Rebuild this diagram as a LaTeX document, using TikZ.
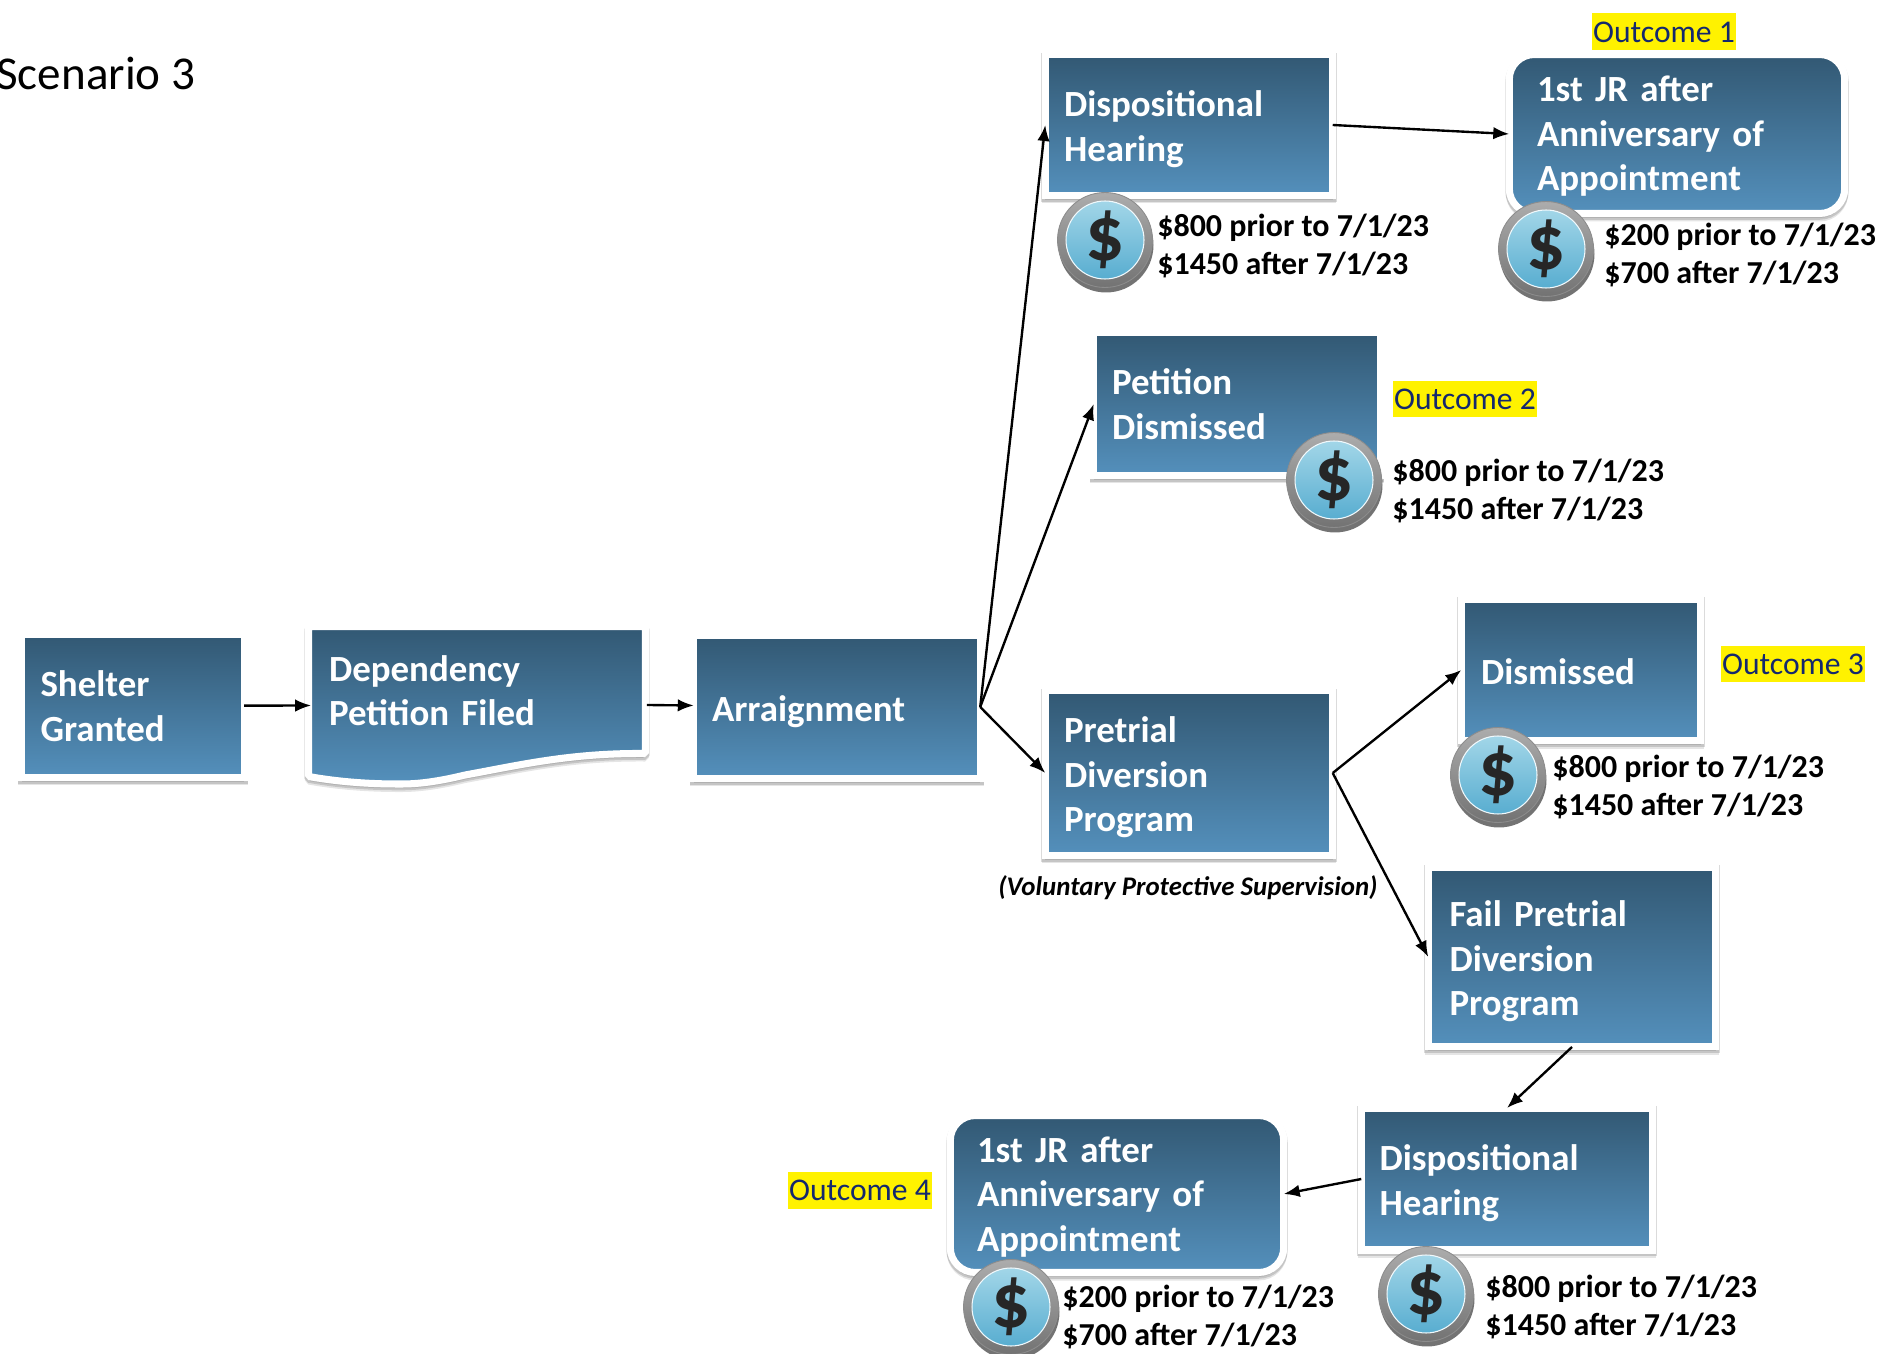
\documentclass[tikz,border=0pt]{standalone}
\usepackage{fontspec}
\usepackage{xcolor}
\usepackage{tikz}
\usetikzlibrary{shapes,arrows.meta,shadows}
\setmainfont{Carlito}
\definecolor{boxtop}{HTML}{325873}
\definecolor{boxbottom}{HTML}{5490BC}
\definecolor{outcomeblue}{HTML}{14286E}
\definecolor{facetop}{HTML}{A2D6E8}
\definecolor{facebottom}{HTML}{58ADD0}
\tikzset{
  framed/.style={draw=white,line width=4pt,outer sep=0pt,top color=boxtop,bottom color=boxbottom,drop shadow={shadow xshift=0pt,shadow yshift=-0.09cm,fill=black,draw=black,line width=4pt,opacity=0.1},drop shadow={shadow xshift=0pt,shadow yshift=-0.045cm,fill=black,draw=black,line width=4.6pt,opacity=0.14}},
  boxtext/.style={text=white,font=\fontsize{21pt}{25.5pt}\selectfont\bfseries,align=left,inner sep=0pt},
  bluebox/.style={rectangle,framed,boxtext,inner xsep=0.32cm,text width=#1,anchor=center},
  lowered/.style={execute at begin node={\rule{0pt}{#1}}},
  money/.style={font=\fontsize{18.2pt}{21.5pt}\selectfont\bfseries,align=left,inner sep=0pt,anchor=west},
  outcome/.style={fill=yellow,text=outcomeblue,font=\fontsize{18pt}{21pt}\selectfont,inner xsep=0.02cm,inner ysep=0pt,minimum height=0.74cm},
  coinring/.style={circle,inner sep=0pt,minimum size=1.9cm,top color=gray!65,middle color=white!90!black,bottom color=black!55,draw=gray!90,line width=0.5pt,drop shadow={shadow xshift=0.02cm,shadow yshift=-0.1cm,fill=black,opacity=0.55}},
  coinmid/.style={circle,inner sep=0pt,minimum size=1.56cm,top color=facetop,bottom color=facebottom,draw=white!85!facetop,line width=0.6pt,text=black!85,font=\fontsize{44pt}{44pt}\selectfont\bfseries},
  link/.style={-{Latex[length=0.32cm,width=0.25cm]},line width=1.35pt}
}
\begin{document}
\begin{tikzpicture}[x=0.02cm,y=-0.02cm]
            \useasboundingbox (0,0) rectangle (1884,1354);
            \node[font=\fontsize{26.8pt}{30pt}\selectfont,anchor=west,inner sep=0pt] (title) at (-4,73) {Scenario 3};

            \node[bluebox=3.7cm,minimum width=4.45cm,minimum height=2.86cm] (shelter) at (133,706) {Shelter\\Granted};
            \path[framed,rounded corners=1pt] (308.5,626.5) -- (645.5,626.5) -- (645.5,753.5) .. controls (570,753) and (520,765) .. (465,775) .. controls (440,781) and (420,784) .. (400,784) .. controls (370,784) and (340,782) .. (308.5,776.5) -- cycle;
            \node[boxtext,text width=6cm,minimum width=6.7cm,anchor=center,inner xsep=0.32cm] (petition) at (479,705) {Dependency\\Petition Filed\rule[-16.4pt]{0pt}{0pt}};
            \node[bluebox=5cm,lowered=19.5pt,minimum width=5.73cm,minimum height=2.86cm] (arraign) at (837,707) {Arraignment};

            \node[bluebox=5cm,lowered=19.5pt,minimum width=5.75cm,minimum height=2.82cm] (dispo) at (1189,125) {Dispositional\\Hearing};
            \node[bluebox=5.6cm,lowered=17pt,rounded corners=0.5cm,minimum width=6.71cm,minimum height=3.18cm] (jrone) at (1677,134) {1st JR after\\Anniversary of\\Appointment};
            \node[bluebox=5cm,minimum width=5.73cm,minimum height=2.86cm] (dismissed) at (1237,404) {Petition\\Dismissed};
            \node[bluebox=5cm,lowered=19.5pt,minimum width=5.75cm,minimum height=3.3cm] (pretrial) at (1189,773) {Pretrial\\Diversion\\Program};
            \node[bluebox=4cm,lowered=17pt,minimum width=4.79cm,minimum height=2.84cm] (dropped) at (1581,670) {Dismissed};
            \node[bluebox=4.9cm,lowered=19.5pt,minimum width=5.75cm,minimum height=3.6cm] (fail) at (1572,957) {Fail Pretrial\\Diversion\\Program};
            \node[bluebox=5.1cm,lowered=19.5pt,minimum width=5.83cm,minimum height=2.84cm] (dispotwo) at (1507,1179) {Dispositional\\Hearing};
            \node[bluebox=5.6cm,lowered=18pt,rounded corners=0.5cm,minimum width=6.67cm,minimum height=3.14cm] (jrtwo) at (1117,1194) {1st JR after\\Anniversary of\\Appointment};

            \node[font=\fontsize{15.3pt}{18pt}\selectfont\bfseries\itshape,inner sep=0pt] (voluntary) at (1188,888) {(Voluntary Protective Supervision)};

            \node[outcome] (outone) at (1664,32) {Outcome 1};
            \node[outcome] (outtwo) at (1465,399) {Outcome 2};
            \node[outcome] (outthree) at (1793,664) {Outcome 3};
            \node[outcome] (outfour) at (860,1190) {Outcome 4};

            \draw[link] (shelter) -- (petition);
            \draw[link] (petition.east) -- (arraign);
            \draw[link] (arraign.east) -- (dispo.west);
            \draw[link] (arraign.east) -- (dismissed.west);
            \draw[link] (arraign.east) -- (pretrial.west);
            \draw[link] (dispo.east) -- (jrone.west);
            \draw[link] (pretrial.east) -- (dropped.west);
            \draw[link] (pretrial.east) -- (fail.west);
            \draw[link] (fail.south) -- (dispotwo.north);
            \draw[link] (dispotwo.west) -- (jrtwo.east);

            \node[coinring] (coinone) at (1105,240) {};
            \node[coinmid] at (coinone) {\$};
            \node[coinring] (cointwo) at (1546,249) {};
            \node[coinmid] at (cointwo) {\$};
            \node[coinring] (cointhree) at (1334,480) {};
            \node[coinmid] at (cointhree) {\$};
            \node[coinring] (coinfour) at (1498,775) {};
            \node[coinmid] at (coinfour) {\$};
            \node[coinring] (coinfive) at (1011,1307) {};
            \node[coinmid] at (coinfive) {\$};
            \node[coinring] (coinsix) at (1426,1294) {};
            \node[coinmid] at (coinsix) {\$};

            \node[money] (feeone) at (1157,246) {\$800 prior to 7/1/23\\\$1450 after 7/1/23};
            \node[money] (feetwo) at (1604,255) {\$200 prior to 7/1/23\\\$700 after 7/1/23};
            \node[money] (feethree) at (1392,491) {\$800 prior to 7/1/23\\\$1450 after 7/1/23};
            \node[money] (feefour) at (1552,787) {\$800 prior to 7/1/23\\\$1450 after 7/1/23};
            \node[money] (feefive) at (1062,1317) {\$200 prior to 7/1/23\\\$700 after 7/1/23};
            \node[money] (feesix) at (1485,1307) {\$800 prior to 7/1/23\\\$1450 after 7/1/23};
        \end{tikzpicture}
\end{document}
